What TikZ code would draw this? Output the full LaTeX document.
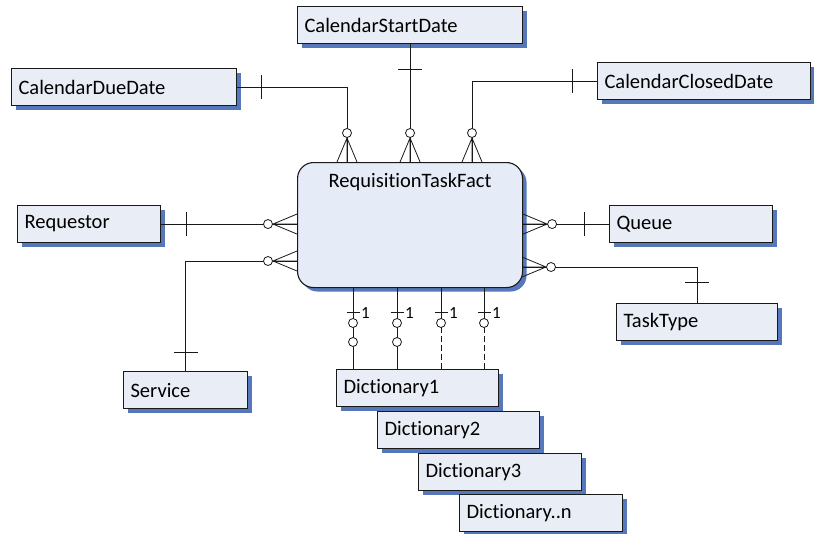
\documentclass[tikz,border=0pt]{standalone}
\usepackage{fontspec}
\setmainfont{Carlito}[Ligatures=NoCommon]
\usetikzlibrary{shadows}
\definecolor{boxfill}{RGB}{233,237,246}
\definecolor{mainfill}{RGB}{230,235,248}
\definecolor{shadowblue}{RGB}{86,120,186}
\definecolor{edgecol}{RGB}{25,25,25}
\tikzset{
  ent/.style={draw=edgecol, line width=1.1pt, fill=boxfill, rectangle, anchor=north west,
    minimum height=37pt, inner xsep=7pt, inner ysep=0pt, align=left,
    font=\fontsize{20.5}{23}\selectfont,
    drop shadow={shadow xshift=4pt, shadow yshift=-4pt, fill=shadowblue, opacity=1}},
  conn/.style={line width=0.8pt, edgecol},
  tick/.style={line width=0.8pt, edgecol},
  ring/.style={line width=0.8pt, draw=edgecol, fill=white},
  onelbl/.style={font=\fontsize{17}{19}\selectfont, inner sep=0pt, anchor=west},
  zeromany/.pic={
    \draw[conn] (-10,0) -- (0,-24) -- (10,0) (0,0) -- (0,-24);
    \draw[ring] (0,-29) circle (4.5pt);
  }
}
\begin{document}
\begin{tikzpicture}[x=1pt,y=-1pt]
\useasboundingbox (0,0) rectangle (814,533);

% main entity
\node[draw=edgecol, line width=1.1pt, fill=mainfill, rounded corners=16pt, anchor=north west,
  minimum width=225pt, minimum height=125pt, inner sep=0pt,
  drop shadow={shadow xshift=4pt, shadow yshift=-4pt, fill=shadowblue, opacity=1},
  label={[anchor=north, inner sep=0pt, yshift=-11pt, font=\fontsize{20.5}{23}\selectfont]north:RequisitionTaskFact}]
  (rtf) at (297,162) {};

% entities
\node[ent, text width=211pt] (csd) at (297,6) {CalendarStartDate};
\node[ent, text width=211pt] (cdd) at (11,68) {CalendarDueDate};
\node[ent, text width=199pt] (ccd) at (597,62) {CalendarClosedDate};
\node[ent, text width=129pt] (req) at (17,205) {Requestor};
\node[ent, text width=110pt] (ser) at (123,371) {Service};
\node[ent, text width=149pt] (que) at (609,205) {Queue};
\node[ent, text width=147pt] (tt) at (616,303) {TaskType};
\node[ent, text width=148pt] (d1) at (336,369) {Dictionary1};
\node[ent, text width=148pt] (d2) at (377,411) {Dictionary2};
\node[ent, text width=149pt] (d3) at (418,453) {Dictionary3};
\node[ent, text width=149pt] (dn) at (459,494) {Dictionary..n};

% attachment points on the fact box
\coordinate (tA) at (347,162);
\coordinate (tB) at (csd.south |- rtf.north);
\coordinate (tC) at (472,162);
\coordinate (lR) at (req.east -| rtf.west);
\coordinate (lS) at (297,261);
\coordinate (rQ) at (que.west -| rtf.east);
\coordinate (rT) at (522,267);

% top connectors
\draw[conn] (cdd.east) -| (tA);
\draw[tick] ([xshift=24pt]cdd.east) ++(0,-12) -- ++(0,24);
\draw[conn] (csd.south) -- (tB);
\draw[tick] ([yshift=-25pt]csd.south) ++(-12,0) -- ++(24,0);
\draw[conn] (ccd.west) -| (tC);
\draw[tick] ([xshift=-25pt]ccd.west) ++(0,-12) -- ++(0,24);
\pic at (tA) {zeromany};
\pic at (tB) {zeromany};
\pic at (tC) {zeromany};

% left connectors
\draw[conn] (req.east) -- (lR);
\draw[tick] ([xshift=25pt]req.east) ++(0,-12) -- ++(0,24);
\pic[rotate=90] at (lR) {zeromany};
\draw[conn] (lS) -| (ser.north);
\draw[tick] ([yshift=19pt]ser.north) ++(-12,0) -- ++(24,0);
\pic[rotate=90] at (lS) {zeromany};

% right connectors
\draw[conn] (que.west) -- (rQ);
\draw[tick] ([xshift=-25pt]que.west) ++(0,-12) -- ++(0,24);
\pic[rotate=-90] at (rQ) {zeromany};
\draw[conn] (rT) -| (tt.north);
\draw[tick] ([yshift=21pt]tt.north) ++(-12,0) -- ++(24,0);
\pic[rotate=-90] at (rT) {zeromany};

% bottom connectors to dictionaries
\coordinate (b1) at (353,287);
\coordinate (b2) at (397,287);
\coordinate (b3) at (441,287);
\coordinate (b4) at (484,287);
\foreach \b in {b1,b2}{
  \draw[conn] (\b) -- (\b |- d1.north);
  \draw[ring] ([yshift=-55pt]\b) circle (4.5pt);
}
\foreach \b in {b3,b4}{
  \draw[conn] (\b) -- ++(0,36);
  \draw[conn, dashed, dash pattern=on 6pt off 3pt] ([yshift=-40pt]\b) -- (\b |- d1.north);
}
\foreach \b in {b1,b2,b3,b4}{
  \draw[tick] ([yshift=-25pt]\b) ++(-6.5,0) -- ++(13,0);
  \draw[ring] ([yshift=-36pt]\b) circle (4.5pt);
  \node[onelbl] at ([xshift=8pt,yshift=-26pt]\b) {1};
}
\end{tikzpicture}
\end{document}
